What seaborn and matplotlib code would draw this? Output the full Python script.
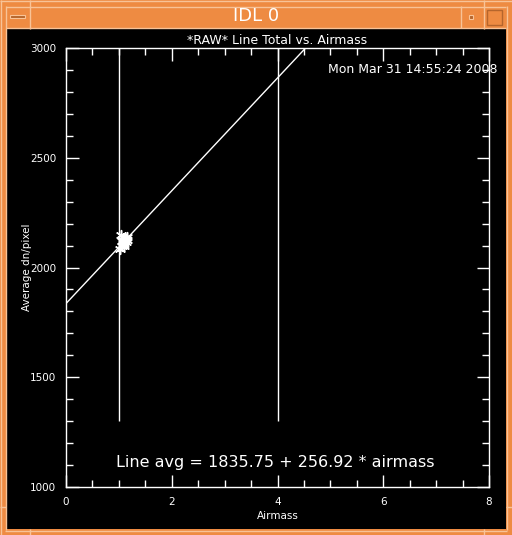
import matplotlib
matplotlib.use('Agg')
import matplotlib.pyplot as plt
import seaborn as sns
import pandas as pd
import numpy as np
from matplotlib.patches import Rectangle
from matplotlib.ticker import MultipleLocator

# Observed points (airmass, average dn/pixel)
airmass = [1.03, 1.05, 1.07, 1.08, 1.09, 1.10, 1.11, 1.12, 1.12, 1.13, 1.14, 1.15, 1.10, 1.06, 1.16, 1.04]
line_avg = [2085, 2100, 2112, 2125, 2108, 2118, 2130, 2122, 2135, 2115, 2128, 2140, 2098, 2120, 2125, 2150]

# Fit coefficients from the annotation
fit_intercept = 1835.75
fit_slope = 256.92
fit_x_range = [0.0, 4.53]

# Airmass limits drawn as vertical markers
airmass_limits = [1.0, 4.0]
limit_low, limit_high = 1300, 3000

x_ticks = [0, 2, 4, 6, 8]
y_ticks = [1000, 1500, 2000, 2500, 3000]

ORANGE = '#ee8b42'
LIGHT = '#f8c397'
DARK = '#b5652c'

sns.set_style('dark')
plt.rcParams['font.family'] = ['DejaVu Sans']

W, H = 512, 535
fig = plt.figure(figsize=(W / 100, H / 100), dpi=100)
fig.patch.set_facecolor(ORANGE)

# window chrome, in pixel coordinates
chrome = fig.add_axes([0, 0, 1, 1], zorder=0)
chrome.set_xlim(0, W)
chrome.set_ylim(H, 0)
chrome.axis('off')
chrome.add_patch(Rectangle((0, 0), W, H, facecolor=ORANGE, edgecolor='none'))
chrome.add_patch(Rectangle((6, 29), 500, 500, facecolor='black', edgecolor='none'))
for seg in [((0, W), (1.0, 1.0)), ((6, 506), (6.5, 6.5)), ((6, 506), (27.5, 27.5)),
            ((29.5, 29.5), (0, 29)), ((460.5, 460.5), (6, 28)), ((483.5, 483.5), (0, 29)),
            ((5.5, 5.5), (6, 530)), ((506.5, 506.5), (6, 530)), ((5, 507), (530.5, 530.5)),
            ((29.5, 29.5), (529, 535)), ((483.5, 483.5), (529, 535)),
            ((0, 6), (506.5, 506.5)), ((506, 512), (506.5, 506.5)), ((1.0, 1.0), (0, H))]:
    chrome.plot(seg[0], seg[1], color=LIGHT, lw=1, solid_capstyle='butt')
chrome.add_patch(Rectangle((10, 15), 15, 3, facecolor=DARK, edgecolor=LIGHT, lw=0.8))
chrome.add_patch(Rectangle((469, 15), 4, 4, facecolor=DARK, edgecolor=LIGHT, lw=0.8))
chrome.add_patch(Rectangle((487, 10), 15, 15, facecolor='none', edgecolor=DARK, lw=1))
chrome.text(W / 2, 16, 'IDL 0', color='white', fontsize=13, ha='center', va='center')

# plot area
ax = fig.add_axes([66 / W, 1 - 487 / H, 423 / W, 439 / H], zorder=1)
ax.set_facecolor('black')

df = pd.DataFrame({'airmass': airmass, 'line_avg': line_avg})
fit_x = np.array(fit_x_range)
fit_df = pd.DataFrame({'airmass': fit_x, 'line_avg': fit_intercept + fit_slope * fit_x})

ax.vlines(airmass_limits, limit_low, limit_high, color='white', lw=1)
sns.lineplot(data=fit_df, x='airmass', y='line_avg', color='white', lw=1, ax=ax)
sns.scatterplot(data=df, x='airmass', y='line_avg', marker=(6, 2, 0), s=50,
                color='white', edgecolor='white', linewidth=1.1, ax=ax)

ax.set_xlim(0, 8)
ax.set_ylim(1000, 3000)
ax.set_xticks(x_ticks)
ax.set_yticks(y_ticks)
ax.xaxis.set_minor_locator(MultipleLocator(0.5))
ax.yaxis.set_minor_locator(MultipleLocator(100))
ax.tick_params(which='both', direction='in', top=True, right=True, bottom=True, left=True,
               colors='white', labelcolor='white', labelsize=7.5, width=1)
ax.tick_params(which='major', length=9, pad=7)
ax.tick_params(which='minor', length=5)
ax.grid(False)
for sp in ax.spines.values():
    sp.set_visible(True)
    sp.set_color('white')
    sp.set_linewidth(1)

ax.set_xlabel('Airmass', color='white', fontsize=7.5, labelpad=3)
ax.set_ylabel('Average dn/pixel', color='white', fontsize=7.5)
ax.yaxis.set_label_coords(-0.08, 0.5)
ax.set_title('*RAW* Line Total vs. Airmass', color='white', fontsize=9, pad=3)

ax.text(1.02, 0.95, 'Mon Mar 31 14:55:24 2008', transform=ax.transAxes, color='white',
        fontsize=9, ha='right', va='center', clip_on=False)
ax.text(3.96, 1110, f'Line avg = {fit_intercept:.2f} + {fit_slope:.2f} * airmass',
        color='white', fontsize=11.5, ha='center', va='center')

fig.savefig('out.png', dpi=100, facecolor=fig.get_facecolor())
